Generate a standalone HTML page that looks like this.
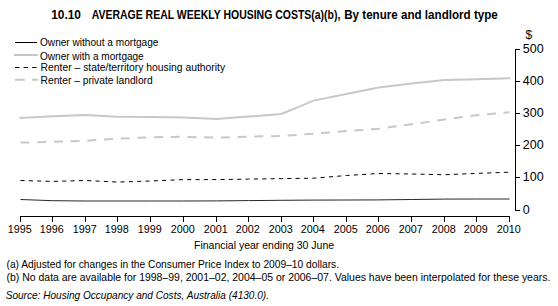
<!DOCTYPE html>
<html><head><meta charset="utf-8"><style>
html,body{margin:0;padding:0;background:#fff;}
body{width:558px;height:306px;overflow:hidden;}
svg{display:block;}
text{font-family:"Liberation Sans",sans-serif;fill:#000;}
</style></head><body>
<svg width="558" height="306" viewBox="0 0 558 306">
<text x="51.2" y="18.9" font-size="12" font-weight="bold" font-style="normal" text-anchor="start" textLength="29.7" lengthAdjust="spacingAndGlyphs">10.10</text>
<text x="91.7" y="18.9" font-size="12" font-weight="bold" font-style="normal" text-anchor="start" textLength="248.7" lengthAdjust="spacingAndGlyphs">AVERAGE REAL WEEKLY HOUSING COSTS(a)(b),</text>
<text x="344.2" y="18.9" font-size="12" font-weight="bold" font-style="normal" text-anchor="start" textLength="153.6" lengthAdjust="spacingAndGlyphs">By tenure and landlord type</text>
<line x1="15" y1="42.5" x2="37" y2="42.5" stroke="#000" stroke-width="1"/>
<line x1="14" y1="55" x2="37.8" y2="55" stroke="#c8c8c8" stroke-width="2"/>
<line x1="15" y1="67.5" x2="37.2" y2="67.5" stroke="#000" stroke-width="1" stroke-dasharray="4.5 4.05"/>
<line x1="14.9" y1="79.8" x2="38" y2="79.8" stroke="#c8c8c8" stroke-width="2" stroke-dasharray="9.9 7.1"/>
<text x="40" y="45.8" font-size="11" font-weight="normal" font-style="normal" text-anchor="start" textLength="118.4" lengthAdjust="spacingAndGlyphs">Owner without a mortgage</text>
<text x="40" y="59.8" font-size="11" font-weight="normal" font-style="normal" text-anchor="start" textLength="103.7" lengthAdjust="spacingAndGlyphs">Owner with a mortgage</text>
<text x="40.6" y="70.6" font-size="11" font-weight="normal" font-style="normal" text-anchor="start" textLength="184.5" lengthAdjust="spacingAndGlyphs">Renter – state/territory housing authority</text>
<text x="40.6" y="83.7" font-size="11" font-weight="normal" font-style="normal" text-anchor="start" textLength="112.1" lengthAdjust="spacingAndGlyphs">Renter – private landlord</text>
<polyline points="20.5,117.9 52.5,116.3 85.5,114.9 117.5,116.7 150.5,116.9 183.5,117.4 216.5,119.0 248.5,116.6 281.5,113.9 313.5,100.6 346.5,93.9 378.5,87.6 411.5,83.6 444.5,80.1 476.5,79.2 509.5,78.2" fill="none" stroke="#c8c8c8" stroke-width="2" stroke-linecap="square"/>
<polyline points="20.5,142.6 52.5,141.9 85.5,140.8 117.5,138.7 150.5,137.3 183.5,136.8 216.5,137.7 248.5,136.6 281.5,136.0 313.5,133.7 346.5,131.1 378.5,128.8 411.5,124.2 444.5,119.5 476.5,115.3 509.5,112.2" fill="none" stroke="#c8c8c8" stroke-width="2" stroke-dasharray="9.0 7.71"/>
<polyline points="20.5,180.5 52.5,181.4 85.5,180.5 117.5,182.1 150.5,181.0 183.5,179.6 216.5,179.6 248.5,179.1 281.5,178.6 313.5,178.2 346.5,175.5 378.5,173.5 411.5,174.0 444.5,174.7 476.5,173.4 509.5,172.2" fill="none" stroke="#000" stroke-width="1" stroke-dasharray="4.1 4.24"/>
<polyline points="20.5,199.5 52.5,200.7 85.5,201.0 117.5,201.0 150.5,201.0 183.5,201.0 216.5,200.9 248.5,200.6 281.5,200.3 313.5,200.1 346.5,200.0 378.5,199.9 411.5,199.5 444.5,199.1 476.5,199.0 509.5,199.0" fill="none" stroke="#000" stroke-width="0.85"/>
<line x1="20" y1="216.5" x2="510" y2="216.5" stroke="#000" stroke-width="1"/>
<line x1="20.5" y1="216" x2="20.5" y2="222" stroke="#000" stroke-width="1"/>
<text x="19.7" y="232.9" font-size="11" font-weight="normal" font-style="normal" text-anchor="middle" textLength="24" lengthAdjust="spacingAndGlyphs">1995</text>
<line x1="52.5" y1="216" x2="52.5" y2="222" stroke="#000" stroke-width="1"/>
<text x="51.7" y="232.9" font-size="11" font-weight="normal" font-style="normal" text-anchor="middle" textLength="24" lengthAdjust="spacingAndGlyphs">1996</text>
<line x1="85.5" y1="216" x2="85.5" y2="222" stroke="#000" stroke-width="1"/>
<text x="84.7" y="232.9" font-size="11" font-weight="normal" font-style="normal" text-anchor="middle" textLength="24" lengthAdjust="spacingAndGlyphs">1997</text>
<line x1="117.5" y1="216" x2="117.5" y2="222" stroke="#000" stroke-width="1"/>
<text x="116.7" y="232.9" font-size="11" font-weight="normal" font-style="normal" text-anchor="middle" textLength="24" lengthAdjust="spacingAndGlyphs">1998</text>
<line x1="150.5" y1="216" x2="150.5" y2="222" stroke="#000" stroke-width="1"/>
<text x="149.7" y="232.9" font-size="11" font-weight="normal" font-style="normal" text-anchor="middle" textLength="24" lengthAdjust="spacingAndGlyphs">1999</text>
<line x1="183.5" y1="216" x2="183.5" y2="222" stroke="#000" stroke-width="1"/>
<text x="182.7" y="232.9" font-size="11" font-weight="normal" font-style="normal" text-anchor="middle" textLength="24" lengthAdjust="spacingAndGlyphs">2000</text>
<line x1="216.5" y1="216" x2="216.5" y2="222" stroke="#000" stroke-width="1"/>
<text x="215.7" y="232.9" font-size="11" font-weight="normal" font-style="normal" text-anchor="middle" textLength="24" lengthAdjust="spacingAndGlyphs">2001</text>
<line x1="248.5" y1="216" x2="248.5" y2="222" stroke="#000" stroke-width="1"/>
<text x="247.7" y="232.9" font-size="11" font-weight="normal" font-style="normal" text-anchor="middle" textLength="24" lengthAdjust="spacingAndGlyphs">2002</text>
<line x1="281.5" y1="216" x2="281.5" y2="222" stroke="#000" stroke-width="1"/>
<text x="280.7" y="232.9" font-size="11" font-weight="normal" font-style="normal" text-anchor="middle" textLength="24" lengthAdjust="spacingAndGlyphs">2003</text>
<line x1="313.5" y1="216" x2="313.5" y2="222" stroke="#000" stroke-width="1"/>
<text x="312.7" y="232.9" font-size="11" font-weight="normal" font-style="normal" text-anchor="middle" textLength="24" lengthAdjust="spacingAndGlyphs">2004</text>
<line x1="346.5" y1="216" x2="346.5" y2="222" stroke="#000" stroke-width="1"/>
<text x="345.7" y="232.9" font-size="11" font-weight="normal" font-style="normal" text-anchor="middle" textLength="24" lengthAdjust="spacingAndGlyphs">2005</text>
<line x1="378.5" y1="216" x2="378.5" y2="222" stroke="#000" stroke-width="1"/>
<text x="377.7" y="232.9" font-size="11" font-weight="normal" font-style="normal" text-anchor="middle" textLength="24" lengthAdjust="spacingAndGlyphs">2006</text>
<line x1="411.5" y1="216" x2="411.5" y2="222" stroke="#000" stroke-width="1"/>
<text x="410.7" y="232.9" font-size="11" font-weight="normal" font-style="normal" text-anchor="middle" textLength="24" lengthAdjust="spacingAndGlyphs">2007</text>
<line x1="444.5" y1="216" x2="444.5" y2="222" stroke="#000" stroke-width="1"/>
<text x="443.7" y="232.9" font-size="11" font-weight="normal" font-style="normal" text-anchor="middle" textLength="24" lengthAdjust="spacingAndGlyphs">2008</text>
<line x1="476.5" y1="216" x2="476.5" y2="222" stroke="#000" stroke-width="1"/>
<text x="475.7" y="232.9" font-size="11" font-weight="normal" font-style="normal" text-anchor="middle" textLength="24" lengthAdjust="spacingAndGlyphs">2009</text>
<line x1="509.5" y1="216" x2="509.5" y2="222" stroke="#000" stroke-width="1"/>
<text x="508.7" y="232.9" font-size="11" font-weight="normal" font-style="normal" text-anchor="middle" textLength="24" lengthAdjust="spacingAndGlyphs">2010</text>
<text x="194.0" y="248.5" font-size="11" font-weight="normal" font-style="normal" text-anchor="start" textLength="140.1" lengthAdjust="spacingAndGlyphs">Financial year ending 30 June</text>
<line x1="515.5" y1="49" x2="515.5" y2="211" stroke="#000" stroke-width="1"/>
<line x1="515" y1="210.5" x2="520" y2="210.5" stroke="#000" stroke-width="1"/>
<text x="522.8" y="214.0" font-size="12.5" font-weight="normal" font-style="normal" text-anchor="start">0</text>
<line x1="515" y1="177.5" x2="520" y2="177.5" stroke="#000" stroke-width="1"/>
<text x="522.8" y="181.0" font-size="12.5" font-weight="normal" font-style="normal" text-anchor="start">100</text>
<line x1="515" y1="145.5" x2="520" y2="145.5" stroke="#000" stroke-width="1"/>
<text x="522.8" y="149.0" font-size="12.5" font-weight="normal" font-style="normal" text-anchor="start">200</text>
<line x1="515" y1="113.5" x2="520" y2="113.5" stroke="#000" stroke-width="1"/>
<text x="522.8" y="117.0" font-size="12.5" font-weight="normal" font-style="normal" text-anchor="start">300</text>
<line x1="515" y1="81.5" x2="520" y2="81.5" stroke="#000" stroke-width="1"/>
<text x="522.8" y="85.0" font-size="12.5" font-weight="normal" font-style="normal" text-anchor="start">400</text>
<line x1="515" y1="49.5" x2="520" y2="49.5" stroke="#000" stroke-width="1"/>
<text x="522.8" y="53.0" font-size="12.5" font-weight="normal" font-style="normal" text-anchor="start">500</text>
<text x="525.6" y="39.0" font-size="12" font-weight="normal" font-style="normal" text-anchor="start">$</text>
<text x="6.5" y="267.9" font-size="10.6" font-weight="normal" font-style="normal" text-anchor="start" textLength="332.5" lengthAdjust="spacingAndGlyphs">(a) Adjusted for changes in the Consumer Price Index to 2009–10 dollars.</text>
<text x="6.5" y="281.2" font-size="10.6" font-weight="normal" font-style="normal" text-anchor="start" textLength="543.9" lengthAdjust="spacingAndGlyphs">(b) No data are available for 1998–99, 2001–02, 2004–05 or 2006–07. Values have been interpolated for these years.</text>
<text x="5.7" y="298.9" font-size="10.6" font-weight="normal" font-style="italic" text-anchor="start" textLength="263.3" lengthAdjust="spacingAndGlyphs">Source: Housing Occupancy and Costs, Australia (4130.0).</text>
</svg>
</body></html>
